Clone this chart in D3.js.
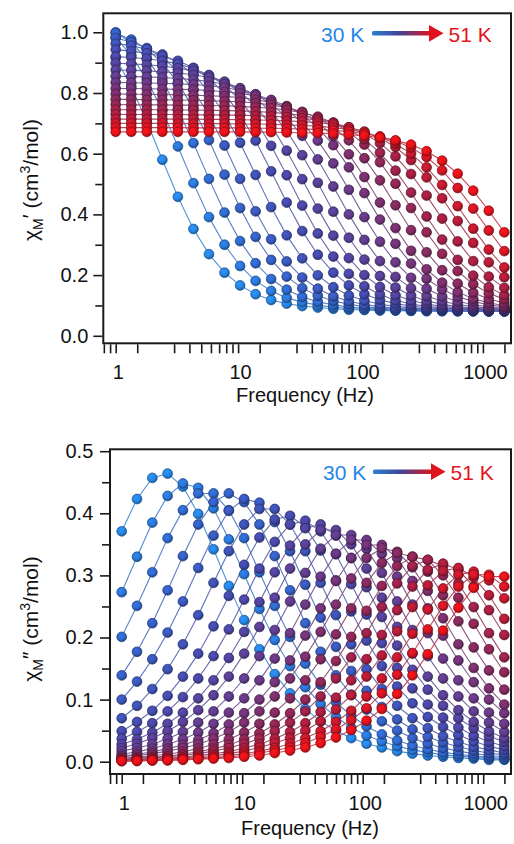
<!DOCTYPE html>
<html><head><meta charset="utf-8">
<script src="https://cdn.jsdelivr.net/npm/d3@7"></script>
<style>
html,body{margin:0;padding:0;background:#fff;}
svg{display:block;font-family:"Liberation Sans",Arial,Helvetica,sans-serif;}
</style></head>
<body><svg id="chart" width="514" height="844"></svg>
<script>
// ---------------- data ----------------
const temperatures = [30,31,32,33,34,35,36,37,38,39,40,41,42,43,44,45,46,47,48,49,50,51];
const frequencies = [1.000,1.340,1.795,2.404,3.221,4.315,5.781,7.745,10.38,13.90,18.62,24.95,33.42,44.77,59.98,80.35,107.6,144.2,193.2,258.8,346.7,464.5,622.3,833.7,1117,1496];

// chi_M' (cm3/mol), one row per temperature (30 K ... 51 K), one value per frequency
const chiPrime = [
[0.916,0.821,0.706,0.580,0.458,0.352,0.269,0.208,0.166,0.137,0.118,0.106,0.098,0.093,0.089,0.086,0.085,0.083,0.083,0.082,0.081,0.081,0.081,0.081,0.080,0.080],
[0.983,0.924,0.844,0.742,0.624,0.503,0.391,0.300,0.230,0.181,0.148,0.125,0.111,0.101,0.094,0.090,0.087,0.085,0.084,0.083,0.082,0.082,0.081,0.081,0.081,0.081],
[1.000,0.965,0.913,0.840,0.746,0.635,0.517,0.406,0.312,0.239,0.187,0.152,0.128,0.112,0.102,0.095,0.091,0.088,0.085,0.084,0.083,0.082,0.082,0.081,0.081,0.081],
[0.997,0.976,0.945,0.899,0.834,0.748,0.645,0.531,0.421,0.326,0.250,0.195,0.157,0.132,0.115,0.104,0.096,0.091,0.088,0.086,0.084,0.083,0.082,0.082,0.081,0.081],
[0.981,0.968,0.948,0.917,0.873,0.810,0.727,0.627,0.517,0.410,0.318,0.245,0.192,0.155,0.130,0.114,0.103,0.096,0.091,0.088,0.086,0.084,0.083,0.082,0.082,0.081],
[0.963,0.956,0.944,0.927,0.900,0.861,0.805,0.730,0.636,0.530,0.424,0.331,0.255,0.199,0.160,0.133,0.116,0.104,0.097,0.092,0.088,0.086,0.084,0.083,0.082,0.082],
[0.943,0.938,0.931,0.921,0.906,0.883,0.848,0.798,0.729,0.643,0.542,0.439,0.345,0.267,0.208,0.166,0.137,0.119,0.106,0.098,0.092,0.089,0.086,0.084,0.083,0.082],
[0.920,0.917,0.913,0.906,0.896,0.881,0.859,0.825,0.777,0.710,0.626,0.529,0.429,0.337,0.261,0.204,0.163,0.136,0.117,0.105,0.097,0.092,0.088,0.086,0.084,0.083],
[0.898,0.896,0.893,0.889,0.882,0.873,0.858,0.836,0.804,0.757,0.692,0.610,0.516,0.419,0.330,0.256,0.200,0.161,0.134,0.116,0.105,0.097,0.092,0.088,0.086,0.084],
[0.876,0.875,0.873,0.870,0.866,0.860,0.851,0.837,0.815,0.783,0.738,0.675,0.595,0.504,0.409,0.323,0.251,0.197,0.159,0.133,0.115,0.104,0.096,0.091,0.088,0.086],
[0.855,0.854,0.853,0.851,0.848,0.844,0.838,0.829,0.816,0.795,0.764,0.720,0.659,0.581,0.492,0.400,0.316,0.246,0.194,0.157,0.131,0.114,0.103,0.096,0.091,0.088],
[0.835,0.834,0.833,0.832,0.830,0.828,0.824,0.818,0.809,0.796,0.776,0.746,0.702,0.643,0.568,0.481,0.391,0.310,0.242,0.191,0.155,0.130,0.113,0.103,0.095,0.091],
[0.815,0.815,0.814,0.813,0.812,0.811,0.808,0.804,0.799,0.790,0.777,0.757,0.728,0.686,0.628,0.555,0.470,0.383,0.303,0.238,0.188,0.153,0.129,0.113,0.102,0.095],
[0.797,0.796,0.796,0.795,0.794,0.793,0.791,0.789,0.785,0.778,0.769,0.755,0.734,0.703,0.658,0.598,0.523,0.439,0.355,0.280,0.219,0.175,0.144,0.122,0.109,0.099],
[0.779,0.779,0.778,0.778,0.777,0.776,0.775,0.773,0.771,0.767,0.761,0.752,0.738,0.718,0.687,0.644,0.585,0.512,0.430,0.348,0.275,0.216,0.172,0.142,0.121,0.108],
[0.762,0.761,0.761,0.761,0.760,0.760,0.759,0.758,0.756,0.753,0.750,0.744,0.735,0.722,0.702,0.672,0.630,0.572,0.501,0.421,0.341,0.270,0.213,0.170,0.140,0.120],
[0.745,0.745,0.745,0.745,0.744,0.744,0.743,0.742,0.741,0.739,0.736,0.732,0.726,0.716,0.702,0.680,0.648,0.603,0.544,0.472,0.393,0.317,0.250,0.198,0.160,0.134],
[0.730,0.729,0.729,0.729,0.729,0.728,0.728,0.727,0.727,0.725,0.723,0.721,0.717,0.710,0.701,0.687,0.666,0.635,0.591,0.533,0.462,0.386,0.311,0.246,0.195,0.158],
[0.714,0.714,0.714,0.714,0.714,0.714,0.713,0.713,0.712,0.711,0.710,0.708,0.706,0.702,0.696,0.687,0.673,0.652,0.622,0.579,0.522,0.453,0.378,0.306,0.242,0.193],
[0.700,0.700,0.700,0.700,0.699,0.699,0.699,0.699,0.698,0.698,0.697,0.695,0.693,0.691,0.686,0.680,0.670,0.655,0.633,0.600,0.555,0.497,0.427,0.353,0.284,0.225],
[0.686,0.686,0.686,0.686,0.686,0.685,0.685,0.685,0.685,0.684,0.684,0.683,0.681,0.680,0.677,0.673,0.666,0.657,0.642,0.620,0.589,0.545,0.487,0.419,0.347,0.279],
[0.672,0.672,0.672,0.672,0.672,0.672,0.672,0.672,0.672,0.671,0.671,0.670,0.669,0.668,0.666,0.663,0.659,0.653,0.644,0.630,0.608,0.577,0.534,0.478,0.412,0.341]
];

// chi_M'' (cm3/mol)
const chiDoublePrime = [
[0.371,0.423,0.457,0.464,0.443,0.399,0.342,0.283,0.228,0.181,0.141,0.110,0.085,0.065,0.050,0.038,0.029,0.023,0.017,0.013,0.010,0.008,0.006,0.005,0.003,0.003],
[0.273,0.330,0.385,0.428,0.448,0.441,0.408,0.358,0.302,0.246,0.196,0.154,0.120,0.093,0.072,0.055,0.042,0.033,0.025,0.019,0.015,0.011,0.009,0.007,0.005,0.004],
[0.201,0.251,0.305,0.360,0.405,0.432,0.432,0.405,0.360,0.305,0.251,0.201,0.158,0.124,0.096,0.074,0.057,0.044,0.034,0.026,0.020,0.015,0.012,0.009,0.007,0.005],
[0.139,0.177,0.223,0.276,0.331,0.382,0.418,0.432,0.418,0.382,0.331,0.276,0.223,0.177,0.139,0.108,0.084,0.065,0.050,0.038,0.029,0.022,0.017,0.013,0.010,0.008],
[0.100,0.129,0.165,0.208,0.258,0.312,0.364,0.404,0.423,0.417,0.386,0.339,0.285,0.232,0.185,0.146,0.114,0.088,0.068,0.052,0.040,0.031,0.024,0.018,0.014,0.011],
[0.070,0.090,0.117,0.149,0.189,0.236,0.288,0.339,0.382,0.407,0.407,0.382,0.339,0.288,0.236,0.189,0.149,0.117,0.090,0.070,0.054,0.041,0.032,0.024,0.019,0.014],
[0.049,0.064,0.082,0.106,0.137,0.174,0.218,0.267,0.317,0.361,0.390,0.396,0.378,0.340,0.292,0.242,0.195,0.154,0.121,0.094,0.072,0.056,0.043,0.033,0.025,0.019],
[0.037,0.048,0.062,0.081,0.104,0.134,0.170,0.213,0.261,0.311,0.354,0.382,0.388,0.371,0.334,0.286,0.237,0.191,0.151,0.118,0.092,0.071,0.055,0.042,0.032,0.025],
[0.028,0.036,0.047,0.061,0.079,0.102,0.131,0.167,0.209,0.257,0.305,0.348,0.376,0.382,0.364,0.328,0.281,0.233,0.187,0.148,0.116,0.090,0.070,0.054,0.041,0.032],
[0.022,0.029,0.038,0.049,0.064,0.083,0.107,0.137,0.174,0.217,0.264,0.311,0.350,0.373,0.373,0.350,0.311,0.264,0.217,0.174,0.137,0.107,0.083,0.064,0.049,0.038],
[0.017,0.022,0.028,0.037,0.048,0.063,0.081,0.105,0.134,0.170,0.212,0.258,0.304,0.343,0.365,0.365,0.343,0.304,0.258,0.212,0.170,0.134,0.105,0.081,0.063,0.048],
[0.012,0.016,0.021,0.028,0.036,0.047,0.061,0.079,0.102,0.131,0.166,0.207,0.253,0.298,0.335,0.357,0.357,0.335,0.298,0.253,0.207,0.166,0.131,0.102,0.079,0.061],
[0.009,0.012,0.016,0.021,0.027,0.035,0.046,0.060,0.078,0.100,0.128,0.163,0.203,0.247,0.291,0.328,0.349,0.349,0.328,0.291,0.247,0.203,0.163,0.128,0.100,0.078],
[0.008,0.010,0.013,0.017,0.022,0.028,0.037,0.048,0.063,0.081,0.105,0.134,0.169,0.209,0.253,0.295,0.328,0.344,0.338,0.313,0.275,0.231,0.189,0.151,0.118,0.092],
[0.006,0.007,0.010,0.012,0.016,0.021,0.028,0.036,0.047,0.061,0.079,0.102,0.131,0.165,0.205,0.247,0.288,0.320,0.336,0.330,0.306,0.268,0.226,0.184,0.147,0.116],
[0.004,0.006,0.007,0.009,0.012,0.016,0.021,0.027,0.036,0.046,0.060,0.078,0.100,0.128,0.162,0.201,0.243,0.283,0.315,0.330,0.325,0.300,0.264,0.222,0.181,0.144],
[0.003,0.004,0.006,0.008,0.010,0.013,0.017,0.022,0.029,0.037,0.049,0.063,0.081,0.105,0.134,0.168,0.207,0.249,0.287,0.315,0.325,0.315,0.287,0.249,0.207,0.168],
[0.003,0.003,0.004,0.006,0.007,0.010,0.013,0.016,0.022,0.028,0.037,0.048,0.062,0.080,0.103,0.131,0.165,0.204,0.244,0.282,0.309,0.319,0.309,0.282,0.244,0.204],
[0.002,0.003,0.003,0.005,0.006,0.008,0.010,0.013,0.017,0.023,0.030,0.038,0.050,0.065,0.084,0.107,0.137,0.171,0.210,0.249,0.284,0.307,0.312,0.297,0.268,0.230],
[0.002,0.002,0.003,0.003,0.004,0.006,0.008,0.010,0.013,0.017,0.022,0.029,0.038,0.049,0.064,0.082,0.105,0.134,0.168,0.206,0.245,0.279,0.301,0.306,0.292,0.263],
[0.001,0.002,0.002,0.003,0.004,0.005,0.006,0.008,0.010,0.014,0.018,0.023,0.030,0.040,0.052,0.067,0.086,0.110,0.140,0.175,0.213,0.251,0.282,0.301,0.301,0.282],
[0.001,0.001,0.002,0.002,0.003,0.004,0.005,0.006,0.008,0.010,0.014,0.018,0.023,0.030,0.039,0.051,0.066,0.085,0.109,0.139,0.173,0.211,0.248,0.280,0.298,0.298]
];

// axis ticks / labels
const xTickValues = [0.8,0.9,1,1.5,3,4,5,6,7,8,9,10,15,30,40,50,60,70,80,90,100,150,300,400,500,600,700,800,900,1000,1500];
const xLabelValues = [1,10,100,1000];
const xTickLabels = ["1","10","100","1000"];
const topYTicks = [0,0.1,0.2,0.3,0.4,0.5,0.6,0.7,0.8,0.9,1.0];
const topYLabelValues = [0,0.2,0.4,0.6,0.8,1.0];
const bottomYTicks = [0,0.05,0.1,0.15,0.2,0.25,0.3,0.35,0.4,0.45,0.5];
const bottomYLabelValues = [0,0.1,0.2,0.3,0.4,0.5];
const legendLabels = ["30 K","51 K"];
const xTitle = "Frequency (Hz)";

// ---------------- drawing ----------------
const svg = d3.select("#chart");
const defs = svg.append("defs");
const nT = temperatures.length;
const colorScale = d3.scaleLinear()
  .domain([0, 0.12, 0.3, 0.5, 0.68, 0.85, 1])
  .range(["#2686e6","#3162c8","#4548aa","#633a8a","#86295c","#b31b38","#e5121a"])
  .interpolate(d3.interpolateRgb);
const tColor = i => colorScale(i / (nT - 1));

temperatures.forEach((T, i) => {
  const c = d3.color(tColor(i));
  const g = defs.append("radialGradient").attr("id", "ball" + i)
    .attr("cx", "40%").attr("cy", "36%").attr("r", "64%");
  g.append("stop").attr("offset", "0%").attr("stop-color", c.brighter(0.3));
  g.append("stop").attr("offset", "60%").attr("stop-color", c);
  g.append("stop").attr("offset", "100%").attr("stop-color", c.darker(1.1));
});

const arrowGrad = defs.append("linearGradient").attr("id", "arrowGrad")
  .attr("x1", "0%").attr("x2", "100%").attr("y1", "0%").attr("y2", "0%");
arrowGrad.append("stop").attr("offset", "0%").attr("stop-color", "#2c7fd8");
arrowGrad.append("stop").attr("offset", "45%").attr("stop-color", "#3f4596");
arrowGrad.append("stop").attr("offset", "100%").attr("stop-color", "#e0141c");

const panels = [
  { data: chiPrime, frame: {l: 103.3, r: 511, t: 13.3, b: 343.3},
    xRange: [115.7, 482.9], yDomain: [0, 1], yRange: [335.8, 32.3],
    yTicks: topYTicks, yLabels: topYLabelValues, yPad: 5,
    title: "prime1", titleX: 38, titleY: 180,
    legend: {x: 321, y: 41.7, ax0: 372, ax1: 430, ah: 443.5, ay: 33.3},
    xTitleX: 305, xTitleY: 401.5 },
  { data: chiDoublePrime, frame: {l: 110, r: 511, t: 449.3, b: 774},
    xRange: [121.7, 483.2], yDomain: [0, 0.5], yRange: [761.7, 451.2],
    yTicks: bottomYTicks, yLabels: bottomYLabelValues, yPad: 6.7,
    title: "prime2", titleX: 38, titleY: 619,
    legend: {x: 323, y: 480, ax0: 373, ax1: 432, ah: 445.5, ay: 471.7},
    xTitleX: 310, xTitleY: 834.5 }
];

function isIn(arr, v) { return arr.some(a => Math.abs(a - v) < 1e-9); }

panels.forEach(p => {
  const x = d3.scaleLog().domain([1, 1000]).range(p.xRange);
  const y = d3.scaleLinear().domain(p.yDomain).range(p.yRange);
  const g = svg.append("g");

  // lines
  const line = d3.line().x((d, j) => x(frequencies[j])).y(d => y(d));
  g.append("g").selectAll("path").data(p.data).join("path")
    .attr("d", line).attr("fill", "none")
    .attr("stroke", (d, i) => d3.interpolateRgb(tColor(i), "#8f9fb3")(0.3))
    .attr("stroke-width", 1.1).attr("stroke-opacity", 0.95);

  // points
  p.data.forEach((row, i) => {
    g.append("g").selectAll("circle").data(row).join("circle")
      .attr("cx", (d, j) => x(frequencies[j])).attr("cy", d => y(d)).attr("r", 4.9)
      .attr("fill", `url(#ball${i})`)
      .attr("stroke", d3.color(tColor(i)).darker(1.5)).attr("stroke-width", 0.7);
  });

  // frame
  g.append("rect").attr("x", p.frame.l).attr("y", p.frame.t)
    .attr("width", p.frame.r - p.frame.l).attr("height", p.frame.b - p.frame.t)
    .attr("fill", "none").attr("stroke", "#1a1a1a").attr("stroke-width", 2);

  // x axis
  const xa = g.append("g").attr("transform", `translate(0,${p.frame.b + 1})`)
    .call(d3.axisBottom(x).tickValues(xTickValues).tickSize(9).tickPadding(12)
      .tickFormat(d => { const k = xLabelValues.indexOf(d); return k >= 0 ? xTickLabels[k] : ""; }));
  xa.select(".domain").remove();
  xa.selectAll(".tick line").attr("stroke", "#1a1a1a").attr("stroke-width", 1.6);
  xa.selectAll(".tick text").attr("font-size", 20).attr("fill", "#111").attr("dx", 2)
    .attr("font-family", '"Liberation Sans",Arial,sans-serif');

  // y axis
  const ya = g.append("g").attr("transform", `translate(${p.frame.l - 1},0)`)
    .call(d3.axisLeft(y).tickValues(p.yTicks).tickSize(9).tickPadding(p.yPad)
      .tickFormat(d => isIn(p.yLabels, d) ? d3.format(".1f")(d) : ""));
  ya.select(".domain").remove();
  ya.selectAll(".tick line").attr("stroke", "#1a1a1a").attr("stroke-width", 1.6)
    .attr("x2", d => isIn(p.yLabels, d) ? -9 : -7);
  ya.selectAll(".tick text").attr("font-size", 20).attr("fill", "#111")
    .attr("font-family", '"Liberation Sans",Arial,sans-serif');

  // x title
  svg.append("text").attr("x", p.xTitleX).attr("y", p.xTitleY).attr("text-anchor", "middle")
    .attr("font-size", 20).attr("fill", "#111").text(xTitle);

  // y title
  const t = svg.append("text").attr("transform", `translate(${p.titleX},${p.titleY}) rotate(-90)`)
    .attr("text-anchor", "middle").attr("font-size", 21).attr("fill", "#111");
  t.append("tspan").text("χ");
  t.append("tspan").attr("font-size", 14).attr("dy", 5).text("M");
  t.append("tspan").attr("dy", -6).text(p.title === "prime1" ? "′" : "″");
  t.append("tspan").attr("dy", 1).text(" (cm");
  t.append("tspan").attr("font-size", 14).attr("dy", -8).text("3");
  t.append("tspan").attr("dy", 8).text("/mol)");

  // legend
  const L = p.legend;
  svg.append("text").attr("x", L.x).attr("y", L.y).attr("font-size", 21)
    .attr("fill", "#1f86e8").text(legendLabels[0]);
  svg.append("rect").attr("x", L.ax0).attr("y", L.ay - 2.3).attr("width", L.ax1 - L.ax0 + 1)
    .attr("height", 4.6).attr("rx", 1.5).attr("fill", "url(#arrowGrad)");
  svg.append("path").attr("d", `M${L.ax1 - 1},${L.ay - 8.4} L${L.ah},${L.ay} L${L.ax1 - 1},${L.ay + 8.4} Z`)
    .attr("fill", "#e0141c");
  svg.append("text").attr("x", L.ah + 5).attr("y", L.y).attr("font-size", 21)
    .attr("fill", "#e3141b").text(legendLabels[1]);
});
</script>
</body></html>
